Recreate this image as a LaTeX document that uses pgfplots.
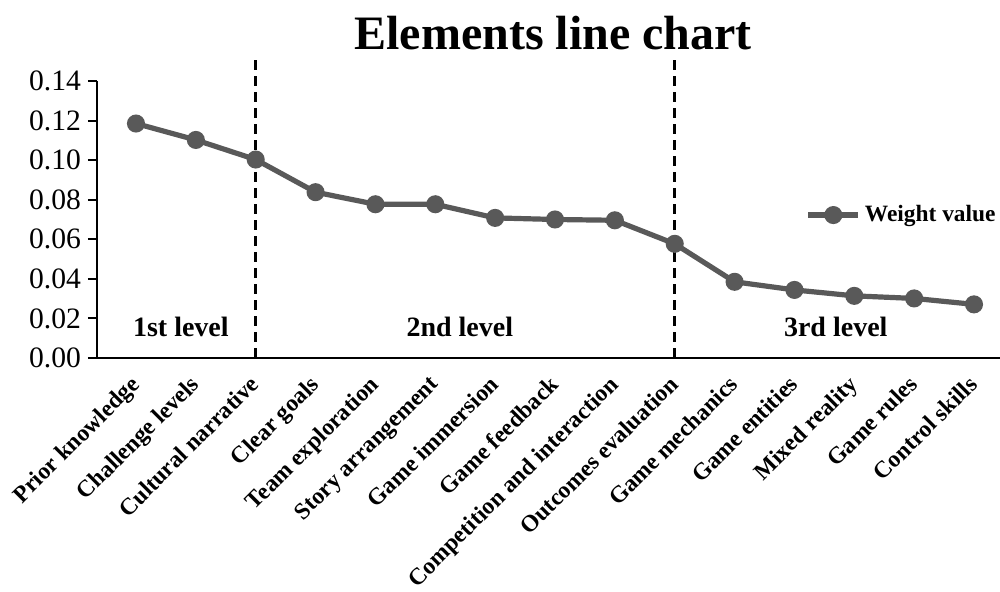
\documentclass[border=0pt]{standalone}
\usepackage{fontspec}
\setmainfont{Liberation Serif}
\usepackage{pgfplots}
\pgfplotsset{compat=1.18}
\definecolor{linegray}{HTML}{595959}
\begin{document}
\begin{tikzpicture}
\begin{axis}[
  scale only axis, width=451.5pt, height=138.5pt,
  xmin=-0.6515, xmax=14.434, ymin=0, ymax=0.14,
  axis x line*=bottom, axis y line*=left,
  axis line style={line width=1.2pt, -},
  xtick={0,1,2,3,4,5,6,7,8,9,10,11,12,13,14},
  xticklabels={Prior knowledge,Challenge levels,Cultural narrative,Clear goals,Team exploration,Story arrangement,Game immersion,Game feedback,Competition and interaction,Outcomes evaluation,Game mechanics,Game entities,Mixed reality,Game rules,Control skills},
  x tick style={draw=none},
  xticklabel style={xshift=-3.5pt, yshift=-2pt, rotate=45, anchor=north east, font=\fontsize{11.8}{12.5}\selectfont\bfseries, inner sep=1pt},
  ytick={0,0.02,0.04,0.06,0.08,0.1,0.12,0.14},
  yticklabel style={/pgf/number format/.cd, fixed, fixed zerofill, precision=2, /tikz/.cd, font=\fontsize{14.8}{15}\selectfont},
  /pgf/number format/assume math mode=true,
  y tick style={line width=1pt, black},
  tick align=outside, major tick length=4.5pt,
  clip=false,
  legend style={at={(rel axis cs:1,0.516)}, anchor=east, draw=none, fill=none, font=\fontsize{11.7}{12}\selectfont\bfseries, inner sep=0pt},
  legend image code/.code={\draw[mark repeat=2, mark phase=2] plot coordinates {(0pt,0pt)(12.5pt,0pt)(25pt,0pt)};},
]
\addplot[color=linegray, line width=2.6pt, mark=*, mark size=3.2pt, mark options={fill=linegray, draw=linegray}] coordinates {
(0,0.1185) (1,0.1102) (2,0.1003) (3,0.0838) (4,0.0777) (5,0.0777) (6,0.0708) (7,0.0700) (8,0.0696) (9,0.0577) (10,0.0385) (11,0.0344) (12,0.0314) (13,0.0301) (14,0.0271)
};
\addlegendentry{Weight value}
\draw[line width=1.3pt, dash pattern=on 5pt off 3pt] (axis cs:2,0) -- ({axis cs:2,0} |- {rel axis cs:0,1.094});
\draw[line width=1.3pt, dash pattern=on 5pt off 3pt] (axis cs:9,0) -- ({axis cs:9,0} |- {rel axis cs:0,1.094});
\node[font=\fontsize{14}{15}\selectfont\bfseries] at (axis cs:0.75,0.0157) {1st level};
\node[font=\fontsize{14}{15}\selectfont\bfseries] at (axis cs:5.41,0.0157) {2nd level};
\node[font=\fontsize{14}{15}\selectfont\bfseries] at (axis cs:11.69,0.0157) {3rd level};
\node[font=\fontsize{24}{26}\selectfont\bfseries] at (rel axis cs:0.505,1.173) {Elements line chart};
\coordinate (bbsw) at (rel axis cs:-0.1074,-0.8448);
\coordinate (bbne) at (rel axis cs:1,1.2924);
\end{axis}
\pgfresetboundingbox
\path (bbsw) rectangle (bbne);
\end{tikzpicture}
\end{document}
